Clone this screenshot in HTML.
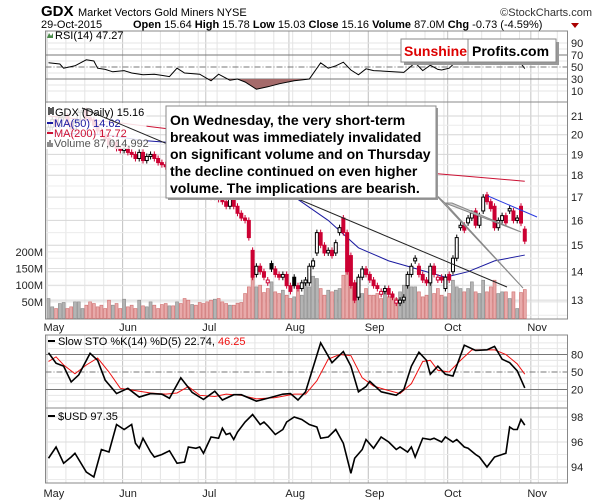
<!DOCTYPE html>
<html><head><meta charset="utf-8">
<style>
html,body{margin:0;padding:0;background:#fff;}
svg{display:block;font-family:"Liberation Sans",Arial,sans-serif;}
</style></head>
<body>
<svg id="chart" width="600" height="500" viewBox="0 0 600 500" xmlns="http://www.w3.org/2000/svg">
<rect x="0" y="0" width="600" height="500" fill="#fff"/>
<g>
 <text x="41" y="16" font-size="15" font-weight="bold">GDX</text>
 <text x="78" y="16" font-size="11">Market Vectors Gold Miners  NYSE</text>
 <text x="592" y="16" font-size="11" text-anchor="end" fill="#333">©StockCharts.com</text>
 <text x="41" y="28" font-size="11">29-Oct-2015</text>
 <text x="133" y="28" font-size="11"><tspan font-weight="bold">Open</tspan> 15.64 <tspan font-weight="bold">High</tspan> 15.78 <tspan font-weight="bold">Low</tspan> 15.03 <tspan font-weight="bold">Close</tspan> 15.16 <tspan font-weight="bold">Volume</tspan> 87.0M <tspan font-weight="bold">Chg</tspan> -0.73 (-4.59%)</text>
 <polygon points="571,23 579,23 575,28" fill="#a00"/>
</g>
<g id="grid"></g>
<g id="plots"></g>
<g id="overlay"></g>
</svg>
<script>
// ---------- DATA ----------
const closes = [20.4,20.8,20.5,20.9,21.0,20.6,20.3,20.7,21.2,21.3,20.9,20.8,20.5,20.2,20.0,19.8,19.5,19.6,19.3,19.2,
19.3,19.1,19.0,18.8,19.1,18.7,18.9,19.0,18.8,18.6,18.5,18.4,18.6,18.3,18.7,18.4,18.0,17.8,17.9,17.6,17.5,17.3,
17.2,17.0,17.1,16.9,16.8,16.6,16.9,16.6,16.3,16.1,16.0,15.3,13.8,
14.2,14.0,13.8,13.7,14.1,13.9,13.8,13.9,13.5,13.3,
13.5,13.4,13.6,13.7,14.2,14.4,15.5,15.0,14.7,14.8,14.6,15.1,15.7,
15.5,
14.0,13.5,13.0,13.8,14.1,13.9,13.7,13.5,13.4,13.3,13.4,13.2,13.1,13.0,13.0,13.1,
13.9,14.2,14.5,13.9,13.7,13.6,14.2,13.9,13.8,13.7,13.8,13.7,
14.5,15.3,15.8,15.6,16.1,16.3,15.8,16.2,17.0,16.8,16.5,15.7,16.0,16.2,15.9,16.5,16.0,16.1,15.89,15.16];
const opens = [20.2,20.4,20.8,20.5,20.9,21.0,20.6,20.3,20.7,21.2,21.3,20.9,20.8,20.5,20.2,20.0,19.8,19.5,19.6,19.3,
19.2,19.3,19.1,19.0,18.8,19.1,18.7,18.9,19.0,18.8,18.6,18.5,18.4,18.6,18.3,18.7,18.4,18.0,17.8,17.9,17.6,17.5,
17.3,17.2,17.0,17.1,16.9,16.8,16.6,16.9,16.6,16.3,16.1,16.0,14.8,
13.9,14.2,14.0,13.6,14.3,14.1,13.9,13.8,13.9,13.5,
13.8,13.5,13.4,13.6,13.6,14.2,14.7,15.5,15.0,14.7,14.8,14.7,15.5,
16.1,
15.5,14.6,13.6,13.1,13.8,14.1,13.9,13.7,13.5,13.2,13.3,13.4,13.2,12.9,12.9,13.0,
13.5,13.9,14.4,14.2,13.9,13.7,13.6,14.2,13.7,13.8,13.4,13.9,
14.0,14.5,15.7,15.8,15.9,16.1,16.4,15.8,16.4,17.1,16.8,16.6,15.7,16.0,16.2,16.4,16.4,16.0,16.6,15.64];
const volumes = [60,35,30,45,48,30,35,50,50,30,40,50,45,35,40,30,55,40,45,30,
58,35,40,30,55,38,35,50,40,30,42,45,38,38,50,45,60,55,42,40,48,45,
50,55,58,60,50,45,40,40,46,48,75,95,200,
95,100,78,90,110,80,75,85,70,60,
65,90,70,110,95,127,120,90,70,85,80,85,90,
130,
150,95,70,65,75,90,70,70,75,60,80,65,75,60,80,100,
105,95,95,80,65,70,120,75,90,70,65,75,
115,95,90,80,90,110,80,75,115,80,95,115,75,80,80,60,80,30,78,87];
const ma50Days = [0,15,25,32,45,55,66,74,82,90,95,105,111,118,126];
const ma50Vals = [20.1,20.0,19.7,19.6,18.6,17.8,16.9,16.0,14.9,14.4,14.2,13.8,14.0,14.4,14.62];
const ma200Days = [0,20,32,60,101,126];
const ma200Vals = [21.0,20.6,20.3,19.4,18.1,17.72];
const rsiDays = [0,3,4,7,10,12,13,15,17,20,22,25,28,30,32,34,36,40,43,45,48,50,52,55,58,61,65,69,72,74,76,78,80,82,84,86,89,94,97,99,101,103,104,106,108,110,112,115,117,119,121,123,125,126];
const rsiVals = [57,55,48,52,62,60,48,46,42,44,40,37,38,36,34,48,40,38,27,38,28,30,25,13,17,22,27,30,57,48,52,58,45,37,47,44,43,41,57,44,53,46,45,48,60,64,66,70,62,58,60,58,56,47.27];
const stoKDays = [0,2,4,6,8,11,13,15,18,21,24,27,30,32,35,38,41,44,46,49,51,55,58,62,64,66,68,72,75,78,80,82,84,85,88,92,94,96,98,100,101,103,105,107,110,113,116,118,120,122,124,126];
const stoKVals = [83,65,60,33,45,82,70,36,13,22,7,13,12,5,40,15,3,17,2,11,11,0,5,12,13,2,16,100,66,85,60,16,25,34,16,10,20,60,84,70,46,60,46,43,96,87,88,94,72,66,52,22.74];
const stoDDays = [0,2,4,7,10,13,16,19,23,27,31,34,37,40,44,47,51,55,60,65,68,71,74,77,80,83,86,89,93,96,99,101,103,106,109,112,115,118,121,124,126];
const stoDVals = [68,76,62,47,62,74,50,22,18,14,12,14,25,10,8,12,10,4,6,12,12,35,72,80,78,40,26,20,13,30,68,70,53,50,70,88,88,88,80,64,46.25];
const usdDays = [0,2,4,6,7,10,12,14,16,18,20,22,23,24,25,27,28,30,32,34,36,37,39,40,41,43,45,46,47,48,49,50,52,54,56,57,58,60,62,63,65,67,69,71,72,74,76,78,80,81,83,84,86,88,90,92,93,95,96,97,99,101,102,104,105,107,108,110,111,113,114,116,117,118,120,121,122,123,124,125,126];
const usdVals = [94.7,95.6,94.3,94.8,95.1,93.6,93.2,95.4,95.2,97.4,97.0,97.4,95.9,95.5,96.3,95.2,94.8,95.0,95.3,94.3,94.4,95.6,95.5,95.6,95.1,96.4,96.3,97.1,96.6,96.7,96.2,96.8,97.6,98.2,97.4,97.6,97.3,96.6,97.0,97.6,98.0,97.8,97.4,97.2,96.3,96.4,97.0,95.9,93.5,94.7,95.4,96.2,95.5,96.4,96.0,95.4,95.6,95.2,95.6,94.8,96.3,96.2,96.3,96.0,96.4,96.0,96.2,95.6,95.5,95.0,94.8,94.0,94.4,94.8,95.0,95.1,97.2,97.0,97.0,97.8,97.35];
const monthLabels = ["May","Jun","Jul","Aug","Sep","Oct","Nov"];
const monthStartDays = [0,20,42,64,85,106,128];
const priceTicks = [13,14,15,16,17,18,19,20,21];
const volumeTicks = [50,100,150,200];
const volumeTickLabels = ["50M","100M","150M","200M"];
const rsiTicks = [10,30,50,70,90];
const stoTicks = [20,50,80];
const usdTicks = [94,96,98];

// ---------- AXES ----------
const NS = "http://www.w3.org/2000/svg";
const PL = 45.5, PR = 567.5;
const xOf = i => 48.5 + 3.78 * i;
const yP = p => 116 + 384 * Math.log(21 / p);
const yV = v => 318.5 - 0.333 * v;
const yR = v => 67 - 0.6 * (v - 50);
const yS = v => 372 - 0.583 * (v - 50);
const yU = v => 417 + 12.5 * (98 - v);
const panels = [[31,102],[102,319],[335,408],[408,483]];

function mk(tag, attrs, parent) {
  const e = document.createElementNS(NS, tag);
  for (const k in attrs) e.setAttribute(k, attrs[k]);
  parent.appendChild(e);
  return e;
}
const grid = document.getElementById('grid');
const plots = document.getElementById('plots');
const overlay = document.getElementById('overlay');

// clip paths
const defs = mk('defs', {}, grid);
panels.forEach((p, k) => {
  const cp = mk('clipPath', {id: 'clip' + k}, defs);
  mk('rect', {x: PL, y: p[0], width: PR - PL, height: p[1] - p[0]}, cp);
});

// weekly / monthly vertical gridlines
panels.forEach(p => {
  for (let d = 0; d <= 136; d += 5) {
    const l = mk('line', {x1: xOf(d) - 1.5, x2: xOf(d) - 1.5, y1: p[0], y2: p[1], stroke: '#e4e4e4', 'stroke-width': 1}, grid);
    
    
  }
  monthStartDays.forEach(d => {
    const l = mk('line', {x1: xOf(d) - 1.5, x2: xOf(d) - 1.5, y1: p[0], y2: p[1], stroke: '#c4c4c4', 'stroke-width': 1}, grid);
    
    
  });
});
// horizontal grids
function hline(y, stroke, dash, name) {
  const l = mk('line', {x1: PL, x2: PR, y1: y, y2: y, stroke: stroke, 'stroke-width': 1}, grid);
  if (dash) l.setAttribute('stroke-dasharray', dash);
  
  
}
function rlabel(y, txt, name) {
  const t = mk('text', {x: 571, y: y + 4, 'font-size': 11, fill: '#222'}, grid);
  t.textContent = txt;
  
  
}
[20, 40, 60, 80].forEach(v => hline(yR(v), '#e4e4e4', null, 'rsi-minor-gridline'));
rsiTicks.forEach(v => {
  if (v === 70 || v === 30) hline(yR(v), '#777', null, 'rsi-threshold-line');
  else if (v === 50) hline(yR(v), '#777', '6,2,1,2', 'rsi-midline');
  else hline(yR(v), '#e4e4e4', null, 'rsi-gridline');
  rlabel(yR(v), String(v), 'rsi-tick-label');
});
[12.5, 13.5, 14.5, 15.5, 16.5, 17.5, 18.5, 19.5, 20.5].forEach(p => hline(yP(p), '#ececec', null, 'price-minor-gridline'));
priceTicks.forEach(p => { hline(yP(p), '#d6d6d6', null, 'price-gridline'); rlabel(yP(p), String(p), 'price-tick-label'); });
volumeTicks.forEach((v, k) => {
  hline(yV(v), '#e0e0e0', null, 'volume-gridline');
  const t = mk('text', {x: 43, y: yV(v) + 4, 'font-size': 11, 'text-anchor': 'end', fill: '#222'}, grid);
  t.textContent = volumeTickLabels[k];
  
  
});
[0, 10, 30, 40, 60, 70, 90, 100].forEach(v => hline(yS(v), '#e6e6e6', null, 'sto-minor-gridline'));
stoTicks.forEach(v => {
  if (v === 50) hline(yS(v), '#777', '6,2,1,2', 'sto-midline');
  else hline(yS(v), '#777', null, 'sto-threshold-line');
  rlabel(yS(v), String(v), 'sto-tick-label');
});
[93, 95, 97].forEach(v => hline(yU(v), '#ececec', null, 'usd-minor-gridline'));
usdTicks.forEach(v => { hline(yU(v), '#dcdcdc', null, 'usd-gridline'); rlabel(yU(v), String(v), 'usd-tick-label'); });

// panel borders
panels.forEach(p => {
  const r = mk('rect', {x: PL, y: p[0], width: PR - PL, height: p[1] - p[0], fill: 'none', stroke: '#888', 'stroke-width': 1}, grid);
  
  
});
// month labels
[331, 497].forEach(yy => {
  monthLabels.forEach((m, k) => {
    const t = mk('text', {x: xOf(monthStartDays[k]) - 5, y: yy, 'font-size': 11, fill: '#222'}, grid);
    t.textContent = m;
    
    
  });
});

// ---------- RSI ----------
const gR = mk('g', {'clip-path': 'url(#clip0)'}, plots);
const rsiPts = rsiDays.map((d, k) => [xOf(d), yR(rsiVals[k])]);
const rsiStr = rsiPts.map(p => p.join(',')).join(' ');
const cpR = mk('clipPath', {id: 'rsiLow'}, defs);
mk('rect', {x: PL, y: yR(30), width: PR - PL, height: 40}, cpR);
const rsiFill = mk('polygon', {points: xOf(rsiDays[0]) + ',' + yR(30) + ' ' + rsiStr + ' ' + xOf(rsiDays[rsiDays.length - 1]) + ',' + yR(30), fill: '#a56b6b', 'clip-path': 'url(#rsiLow)'}, gR);


const rsiLine = mk('polyline', {points: rsiStr, fill: 'none', stroke: '#000', 'stroke-width': 1}, gR);



// ---------- MAIN: volume ----------
const gM = mk('g', {'clip-path': 'url(#clip1)'}, plots);
volumes.forEach((v, i) => {
  const down = i > 0 && closes[i] < closes[i - 1];
  const b = mk('rect', {x: xOf(i) - 1.5, y: yV(v), width: 3, height: 318.5 - yV(v), fill: down ? '#e8aaaa' : '#b4b4b4', stroke: down ? '#cf6f6f' : '#8a8a8a', 'stroke-width': 0.6}, gM);
  
  
});
// MAs
function line(days, vals, yf, color, w, parent, name) {
  const l = mk('polyline', {points: days.map((d, k) => xOf(d) + ',' + yf(vals[k])).join(' '), fill: 'none', stroke: color, 'stroke-width': w}, parent);
  
  
}
line(ma200Days, ma200Vals, yP, '#cc1133', 1, gM, 'ma200-line');
line(ma50Days, ma50Vals, yP, '#1a1aa0', 1, gM, 'ma50-line');
// candles
closes.forEach((c, i) => {
  const o = opens[i];
  const down = i > 0 && c < closes[i - 1];
  const col = down ? '#cc0033' : '#000';
  const top = yP(Math.max(o, c)), bot = yP(Math.min(o, c));
  const w = mk('line', {x1: xOf(i), x2: xOf(i), y1: top - 3, y2: bot + 3, stroke: col, 'stroke-width': 1}, gM);
  
  
  const b = mk('rect', {x: xOf(i) - 1.5, y: top, width: 3, height: Math.max(1, bot - top), fill: c < o ? col : '#fff', stroke: col, 'stroke-width': 1}, gM);
  
  
});

// ---------- STO ----------
const gS = mk('g', {'clip-path': 'url(#clip2)'}, plots);
line(stoDDays, stoDVals, yS, '#ee1111', 1, gS, 'sto-d-line');
line(stoKDays, stoKVals, yS, '#000', 1.6, gS, 'sto-k-line');
// ---------- USD ----------
const gU = mk('g', {'clip-path': 'url(#clip3)'}, plots);
line(usdDays, usdVals, yU, '#000', 1.6, gU, 'usd-line');
</script>
<script>
// ---------- OVERLAYS (legends, annotations) ----------
(function(){
const NS = "http://www.w3.org/2000/svg";
const ov = document.getElementById('overlay');
ov.innerHTML = `
<g>
 <polygon points="47,38 49,33 51,36 53,33 53,38" fill="#4a8a4a"/>
 <text x="55" y="39" font-size="11">RSI(14) 47.27</text>
</g>
<g>
 <rect x="404" y="42" width="155" height="23" fill="#999"/>
 <rect x="401" y="39" width="155" height="23" fill="#fff" stroke="#888"/>
 <line x1="468" y1="39" x2="468" y2="62" stroke="#888"/>
 <text x="404" y="56" font-size="14" font-weight="bold" fill="#dd0000">Sunshine</text>
 <text x="472" y="56" font-size="14" font-weight="bold" fill="#000">Profits.com</text>
</g>
<g>
 <rect x="46.5" y="103" width="100" height="46" fill="#fff" opacity="0.85"/>
 <g><path d="M49 107v8M51 108v6M53 107v8" stroke="#000" stroke-width="1.3"/><text x="55" y="116" font-size="11">GDX (Daily) 15.16</text></g>
 <g><line x1="47" y1="123" x2="53" y2="123" stroke="#1a1aa0" stroke-width="2"/><text x="54" y="127" font-size="11" fill="#1a1aa0">MA(50) 14.62</text></g>
 <g><line x1="47" y1="133" x2="53" y2="133" stroke="#cc1133" stroke-width="2"/><text x="54" y="137" font-size="11" fill="#cc1133">MA(200) 17.72</text></g>
 <g><path d="M48 147v-5M50 147v-7M52 147v-4" stroke="#666" stroke-width="1.5"/><text x="54" y="147" font-size="11" fill="#555">Volume 87,014,992</text></g>
</g>
<line x1="82" y1="108" x2="507" y2="287" stroke="#222" stroke-width="1"/>
<line x1="488" y1="196" x2="537" y2="217" stroke="#2a3ae0" stroke-width="1"/>
<g>
 <polygon points="433,192 523,288 445,203" fill="#e6e6e6" stroke="#888" stroke-width="1"/>
 <polygon points="445,203 521,232 452,203" fill="#cfcfcf" stroke="#888" stroke-width="1"/>
 <rect x="168" y="108" width="270" height="92" fill="#9a9a9a"/>
 <rect x="166" y="106" width="270" height="92" fill="#fff" stroke="#888" stroke-width="1"/>
 <g font-size="14" font-weight="bold" fill="#000">
  <text x="170" y="125">On Wednesday, the very short-term</text>
  <text x="170" y="142">breakout was immediately invalidated</text>
  <text x="170" y="159">on significant volume and on Thursday</text>
  <text x="170" y="176">the decline continued on even higher</text>
  <text x="170" y="193">volume. The implications are bearish.</text>
 </g>
</g>
<g>
 <line x1="48" y1="341" x2="55" y2="341" stroke="#000" stroke-width="2"/>
 <text x="58" y="345" font-size="11">Slow STO %K(14) %D(5) 22.74, <tspan fill="#ee1111">46.25</tspan></text>
</g>
<g>
 <line x1="48" y1="416" x2="55" y2="416" stroke="#000" stroke-width="2"/>
 <text x="58" y="420" font-size="11">$USD 97.35</text>
</g>`;
})();
</script>
</body></html>
